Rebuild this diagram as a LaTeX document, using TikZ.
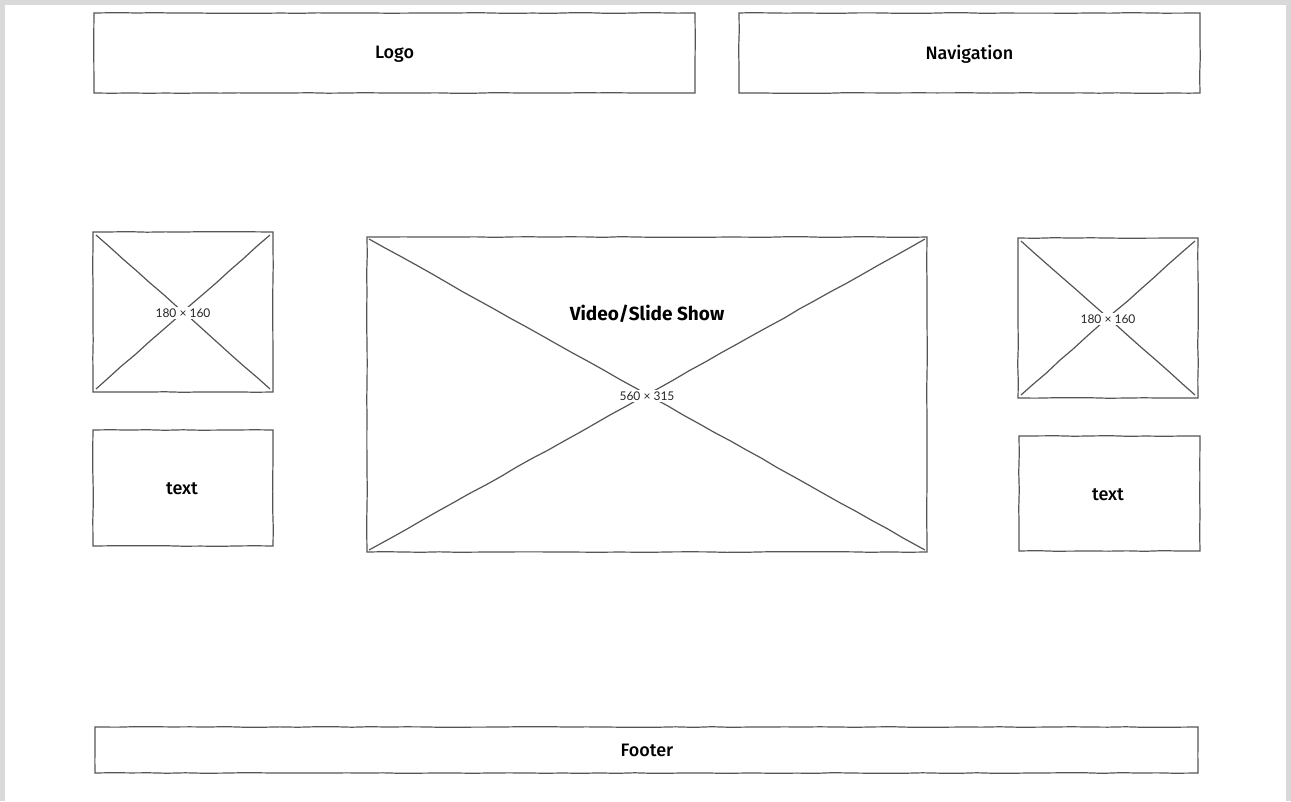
\documentclass[tikz,border=0pt]{standalone}
\usepackage{fontspec}
\setmainfont{Fira Sans}
\newfontfamily\labelfont{Fira Sans Medium}
\newfontfamily\dimfont{Lato}
\usetikzlibrary{decorations.pathmorphing}
\definecolor{frame}{HTML}{D9D9D9}
\definecolor{ink}{HTML}{555555}
\tikzset{
  sketch/.style={draw=ink, line width=1.2pt, decorate,
    decoration={random steps, segment length=18pt, amplitude=0.35pt}},
  panel/.style={sketch},
  lbl/.style={font=\labelfont\fontsize{18}{21}\selectfont, text=black},
  title/.style={font=\fontsize{19}{22}\selectfont\bfseries, text=black},
  dims/.style={font=\dimfont\fontsize{12}{14}\selectfont, text=black!85,
    fill=white, inner sep=1.5pt}
}
\begin{document}
\begin{tikzpicture}[x=1pt, y=-1pt]
  % page frame
  \fill[frame] (0,0) rectangle (1291,801);
  \fill[white] (5,5) rectangle (1286,801);
  \useasboundingbox (0,0) rectangle (1291,801);

  % header
  \draw[panel] (94,13) rectangle (695,93);
  \node[lbl] (logo) at (394.5,54) {Logo};
  \draw[panel] (739,13) rectangle (1200,93);
  \node[lbl] (nav) at (969.5,54) {Navigation};

  % left image placeholder
  \draw[panel] (93,232) rectangle (273,392);
  \draw[sketch] (96,235) -- (270,389);
  \draw[sketch] (270,235) -- (96,389);
  \node[dims] (ldim) at (183,313) {180 × 160};

  % left text box
  \draw[panel] (93,430) rectangle (273,546);
  \node[lbl] (ltext) at (182,489) {text};

  % central video placeholder
  \draw[panel] (367,237) rectangle (927,552);
  \draw[sketch] (369,239) -- (925,550);
  \draw[sketch] (925,239) -- (369,550);
  \node[dims] (vdim) at (647,396) {560 × 315};
  \node[title, fill=white, inner sep=2pt] (vtitle) at (647,314) {Video/Slide Show};

  % right image placeholder
  \draw[panel] (1018,238) rectangle (1198,398);
  \draw[sketch] (1021,241) -- (1195,395);
  \draw[sketch] (1195,241) -- (1021,395);
  \node[dims] (rdim) at (1108,319) {180 × 160};

  % right text box
  \draw[panel] (1019,436) rectangle (1200,551);
  \node[lbl] (rtext) at (1108,495) {text};

  % footer
  \draw[panel] (95,727) rectangle (1198,773);
  \node[lbl] (foot) at (647,750) {Footer};
\end{tikzpicture}
\end{document}
